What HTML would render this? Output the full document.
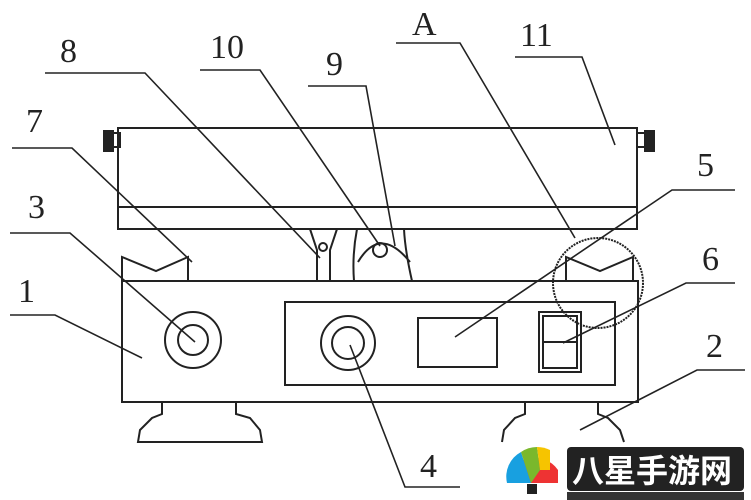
<!DOCTYPE html>
<html><head><meta charset="utf-8"><style>
html,body{margin:0;padding:0;background:#fff;width:751px;height:500px;overflow:hidden}
svg{display:block}
text{font-family:"Liberation Serif",serif;font-size:34px;fill:#222}
</style></head><body>
<svg width="751" height="500" viewBox="0 0 751 500" xmlns="http://www.w3.org/2000/svg">
<g fill="none" stroke="#222" stroke-width="2">
<!-- beam -->
<rect x="118" y="128" width="519" height="101"/>
<line x1="118" y1="207" x2="637" y2="207"/>
<rect x="112" y="133" width="8" height="14"/>
<rect x="104" y="131" width="9" height="20" fill="#222"/>
<rect x="637" y="133" width="8" height="14"/>
<rect x="645" y="131" width="9" height="20" fill="#222"/>
<!-- supports -->
<path d="M310 229 L317 250 L317 281 M337 229 L330 250 L330 281"/>
<circle cx="323" cy="247" r="4"/>
<path d="M357 229 Q352 255 354 281 M412 281 Q405 250 404 229 M358 262 Q380 225 410 262"/>
<circle cx="380" cy="250" r="7"/>
<!-- body -->
<rect x="122" y="281" width="516" height="121"/>
<rect x="285" y="302" width="330" height="83"/>
<circle cx="193" cy="340" r="28"/><circle cx="193" cy="340" r="15"/>
<circle cx="348" cy="343" r="27"/><circle cx="348" cy="343" r="16"/>
<rect x="418" y="318" width="79" height="49"/>
<rect x="539" y="312" width="42" height="60"/>
<rect x="543" y="316" width="34" height="52"/>
<line x1="543" y1="342" x2="577" y2="342"/>
<!-- V blocks -->
<path d="M122 281 V257 L156 271 L188 257 V281"/>
<path d="M566 281 V257 L600 271 L633 257 V281"/>
<!-- A circle -->
<circle cx="598" cy="283" r="45" stroke-dasharray="2 1"/>
<!-- feet -->
<path d="M162 402 V414 L152 418 L140 430 L138 442 H262 L260 430 L250 418 L236 414 V402"/>
<path d="M525 402 V414 L515 418 L504 430 L502 442"/>
<path d="M598 402 V414 L608 418 L620 430 L624 442"/>
<!-- leaders -->
<g stroke-width="1.6">
<path d="M45 73 H145 L320 258"/>
<path d="M200 70 H260 L380 246"/>
<path d="M308 86 H366 L395 246"/>
<path d="M396 43 H460 L575 238"/>
<path d="M515 57 H582 L615 145"/>
<path d="M12 148 H72 L192 262"/>
<path d="M10 233 H70 L195 342"/>
<path d="M10 315 H55 L142 358"/>
<path d="M735 190 H672 L455 337"/>
<path d="M735 283 H686 L563 343"/>
<path d="M745 370 H697 L580 430"/>
<path d="M460 487 H405 L350 345"/>
</g>
</g>
<text x="60" y="62">8</text>
<text x="210" y="58">10</text>
<text x="326" y="75">9</text>
<text x="412" y="35">A</text>
<text x="520" y="46">11</text>
<text x="26" y="132">7</text>
<text x="28" y="218">3</text>
<text x="18" y="302">1</text>
<text x="697" y="176">5</text>
<text x="702" y="270">6</text>
<text x="706" y="357">2</text>
<text x="420" y="477">4</text>
<!-- watermark -->
<g>
<path d="M507 483 A28 28 0 0 1 558 470 L558 483 Z" fill="#e33"/>
<path d="M507 483 A28 28 0 0 1 521 452 L531 483 Z" fill="#18a0e0"/>
<path d="M521 452 A28 28 0 0 1 537 447 L540 470 L531 483 Z" fill="#7ab82c"/>
<path d="M537 447 A28 28 0 0 1 550 450 L550 470 L540 470 Z" fill="#f6c400"/>
<rect x="527" y="484" width="10" height="10" fill="#222"/>
<rect x="567" y="447" width="177" height="44" rx="4" fill="#222"/>
<text x="572" y="482" style="font-family:'Liberation Sans','Noto Sans CJK SC',sans-serif;font-size:32px;fill:#fff;font-weight:bold">八星手游网</text>
<rect x="567" y="492" width="177" height="8" fill="#333"/>
</g>
</svg>
</body></html>
